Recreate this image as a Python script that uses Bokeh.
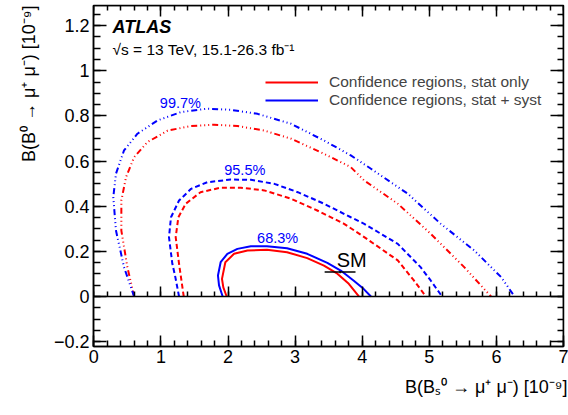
import numpy as np
from bokeh.plotting import figure
from bokeh.models import (LinearAxis, FixedTicker, Label, Legend, LegendItem, Range1d, Title)
from bokeh.embed import file_html
from bokeh.resources import INLINE

# ---------------- data ----------------
# 68.3% contours
bs_683_stat = [1.98, 1.93, 1.91, 1.96, 2.09, 2.29, 2.58, 2.88, 3.18, 3.43, 3.63, 3.80, 3.95]
b0_683_stat = [0.0, 0.040, 0.078, 0.152, 0.189, 0.204, 0.207, 0.196, 0.170, 0.137, 0.101, 0.056, 0.0]
bs_683_syst = [1.92, 1.866, 1.85, 1.89, 1.99, 2.14, 2.34, 2.58, 2.88, 3.18, 3.48, 3.68, 3.87, 4.02, 4.13]
b0_683_syst = [0.0, 0.049, 0.093, 0.152, 0.189, 0.211, 0.223, 0.223, 0.214, 0.189, 0.149, 0.115, 0.071, 0.034, 0.0]
# 95.5% contours
bs_955_stat = [1.34, 1.27, 1.22, 1.26, 1.37, 1.59, 1.89, 2.19, 2.54, 2.94, 3.33, 3.73, 4.03, 4.53, 4.77, 4.95]
b0_955_stat = [0.0, 0.145, 0.263, 0.351, 0.411, 0.462, 0.482, 0.482, 0.470, 0.433, 0.381, 0.322, 0.263, 0.160, 0.071, 0.0]
bs_955_syst = [1.27, 1.21, 1.17, 1.12, 1.15, 1.27, 1.45, 1.69, 2.04, 2.34, 2.69, 3.04, 3.43, 3.83, 4.03, 4.53, 4.87, 5.02, 5.19]
b0_955_syst = [0.0, 0.093, 0.145, 0.263, 0.351, 0.425, 0.477, 0.506, 0.518, 0.517, 0.499, 0.462, 0.411, 0.351, 0.322, 0.233, 0.130, 0.071, 0.0]
# 99.7% contours
bs_997_stat = [0.60, 0.50, 0.41, 0.41, 0.48, 0.60, 0.80, 1.10, 1.45, 1.79, 2.14, 2.54, 2.94, 3.43, 3.83, 4.03, 4.53, 5.02, 5.52, 5.92]
b0_997_stat = [0.0, 0.130, 0.292, 0.425, 0.529, 0.617, 0.684, 0.735, 0.755, 0.761, 0.755, 0.735, 0.699, 0.632, 0.573, 0.514, 0.411, 0.278, 0.130, 0.0]
bs_997_syst = [0.60, 0.45, 0.33, 0.29, 0.33, 0.45, 0.65, 0.95, 1.30, 1.69, 2.04, 2.44, 2.94, 3.43, 3.83, 4.13, 4.68, 5.17, 5.67, 6.07, 6.27]
b0_997_syst = [0.0, 0.130, 0.292, 0.440, 0.544, 0.647, 0.721, 0.780, 0.817, 0.832, 0.827, 0.809, 0.765, 0.691, 0.625, 0.566, 0.455, 0.322, 0.204, 0.086, 0.0]

# Standard Model prediction
sm_bs, sm_bs_err = 3.67, 0.23
sm_b0, sm_b0_err = 0.108, 0.005

# axes ticks
x_ticks = [0, 1, 2, 3, 4, 5, 6, 7]
x_tick_labels = ["0", "1", "2", "3", "4", "5", "6", "7"]
y_ticks = [-0.2, 0.0, 0.2, 0.4, 0.6, 0.8, 1.0, 1.2]
y_tick_labels = ["\u22120.2", "0", "0.2", "0.4", "0.6", "0.8", "1", "1.2"]

x_title = "B(B\u209b\u2070 \u2192 \u03bc\u207a \u03bc\u207b) [10\u207b\u2079]"
y_title = "B(B\u2070 \u2192 \u03bc\u207a \u03bc\u207b) [10\u207b\u2079]"

# ---------------- figure ----------------
X0, X1 = -0.005, 7.0
Y0, Y1 = -0.2215, 1.289
FONT = "Liberation Sans"
RED = "#ff0000"
BLUE = "#0000ff"

p = figure(width=568, height=415, output_backend="svg", toolbar_location=None,
           x_range=Range1d(X0, X1), y_range=Range1d(Y0, Y1),
           min_border_left=93, min_border_right=5, min_border_top=5, min_border_bottom=69)
p.grid.visible = False
p.outline_line_color = "black"
p.outline_line_width = 1.5
p.background_fill_color = "white"
p.border_fill_color = "white"

x_minor = [float(v) for v in np.round(np.arange(0.0, 7.0001, 0.2), 3)]
y_minor = [float(v) for v in np.round(np.arange(-0.2, 1.2501, 0.05), 3)]

def style_axis(ax, major_in, minor_in, labels=True):
    ax.axis_line_color = "black"
    ax.axis_line_width = 1.5
    ax.major_tick_in = major_in
    ax.major_tick_out = 0
    ax.minor_tick_in = minor_in
    ax.minor_tick_out = 0
    ax.major_tick_line_width = 1.5
    ax.minor_tick_line_width = 1.5
    ax.major_tick_line_color = "black"
    ax.minor_tick_line_color = "black"
    if labels:
        ax.major_label_text_font = FONT
        ax.major_label_text_font_size = "18px"
        ax.major_label_text_color = "black"
    else:
        ax.major_label_text_color = None

xa = p.xaxis[0]
xa.ticker = FixedTicker(ticks=x_ticks, minor_ticks=x_minor)
xa.major_label_overrides = {t: l for t, l in zip(x_ticks, x_tick_labels)}
xa.major_label_standoff = 3
style_axis(xa, 11, 6)

ya = p.yaxis[0]
ya.ticker = FixedTicker(ticks=y_ticks, minor_ticks=y_minor)
ya.major_label_overrides = {t: l for t, l in zip(y_ticks, y_tick_labels)}
ya.major_label_standoff = 4
style_axis(ya, 13, 7)

# axis titles, right/top aligned like the reference
xt_title = Title(text=x_title, align="right", text_font=FONT, text_font_size="18px",
                 text_font_style="normal", text_color="black", offset=-4)
yt_title = Title(text=y_title, align="right", text_font=FONT, text_font_size="18px",
                 text_font_style="normal", text_color="black")
try:
    xt_title.standoff = 18
    yt_title.standoff = 23
except (AttributeError, ValueError):
    pass
p.add_layout(xt_title, "below")
p.add_layout(yt_title, "left")

top = LinearAxis(ticker=FixedTicker(ticks=x_ticks, minor_ticks=x_minor), fixed_location=Y1)
style_axis(top, 11, 5, labels=False)
p.add_layout(top, "above")

right = LinearAxis(ticker=FixedTicker(ticks=y_ticks, minor_ticks=y_minor), fixed_location=X1)
style_axis(right, 13, 6, labels=False)
p.add_layout(right, "right")

zero = LinearAxis(ticker=FixedTicker(ticks=x_ticks, minor_ticks=x_minor), fixed_location=0)
style_axis(zero, 10, 5, labels=False)
p.add_layout(zero, "below")

# ---------------- contours ----------------
DASH = "5 3"
DDD = "6 3 1 3 1 3 1 3"
p.line(bs_997_stat, b0_997_stat, line_color=RED, line_width=2, line_dash=DDD)
p.line(bs_997_syst, b0_997_syst, line_color=BLUE, line_width=2, line_dash=DDD)
p.line(bs_955_stat, b0_955_stat, line_color=RED, line_width=2, line_dash=DASH)
p.line(bs_955_syst, b0_955_syst, line_color=BLUE, line_width=2, line_dash=DASH)
r_stat = p.line(bs_683_stat, b0_683_stat, line_color=RED, line_width=2)
r_syst = p.line(bs_683_syst, b0_683_syst, line_color=BLUE, line_width=2)

# SM point
p.segment(x0=[sm_bs - sm_bs_err], y0=[sm_b0], x1=[sm_bs + sm_bs_err], y1=[sm_b0],
          line_color="black", line_width=1.5)
p.segment(x0=[sm_bs], y0=[sm_b0 - sm_b0_err], x1=[sm_bs], y1=[sm_b0 + sm_b0_err],
          line_color="black", line_width=1.5)

# ---------------- labels ----------------
def add_label(x, y, text, size, color="black", align="left", baseline="middle",
              style="normal"):
    p.add_layout(Label(x=x, y=y, text=text, text_font=FONT, text_font_size=size,
                       text_color=color, text_align=align, text_baseline=baseline,
                       text_font_style=style))

add_label(1.29, 0.857, "99.7%", "14.5px", BLUE, align="center")
add_label(2.25, 0.560, "95.5%", "14.5px", BLUE, align="center")
add_label(2.74, 0.258, "68.3%", "14.5px", BLUE, align="center")
add_label(3.62, 0.162, "SM", "20px")
add_label(0.279, 1.192, "ATLAS", "18px", style="bold italic")
add_label(0.279, 1.092, "\u221as = 13 TeV, 15.1-26.3 fb\u207b\u00b9", "15.5px")

# ---------------- legend ----------------
legend = Legend(items=[LegendItem(label="Confidence regions, stat only", renderers=[r_stat]),
                       LegendItem(label="Confidence regions, stat + syst", renderers=[r_syst])],
                location=(172, 237), padding=0, spacing=0, margin=0,
                glyph_width=53, glyph_height=18, label_height=18, label_standoff=11,
                label_text_font=FONT, label_text_font_size="15.5px",
                border_line_color=None, background_fill_alpha=0)
p.add_layout(legend)

open("out.html", "w").write(file_html(p, INLINE))
